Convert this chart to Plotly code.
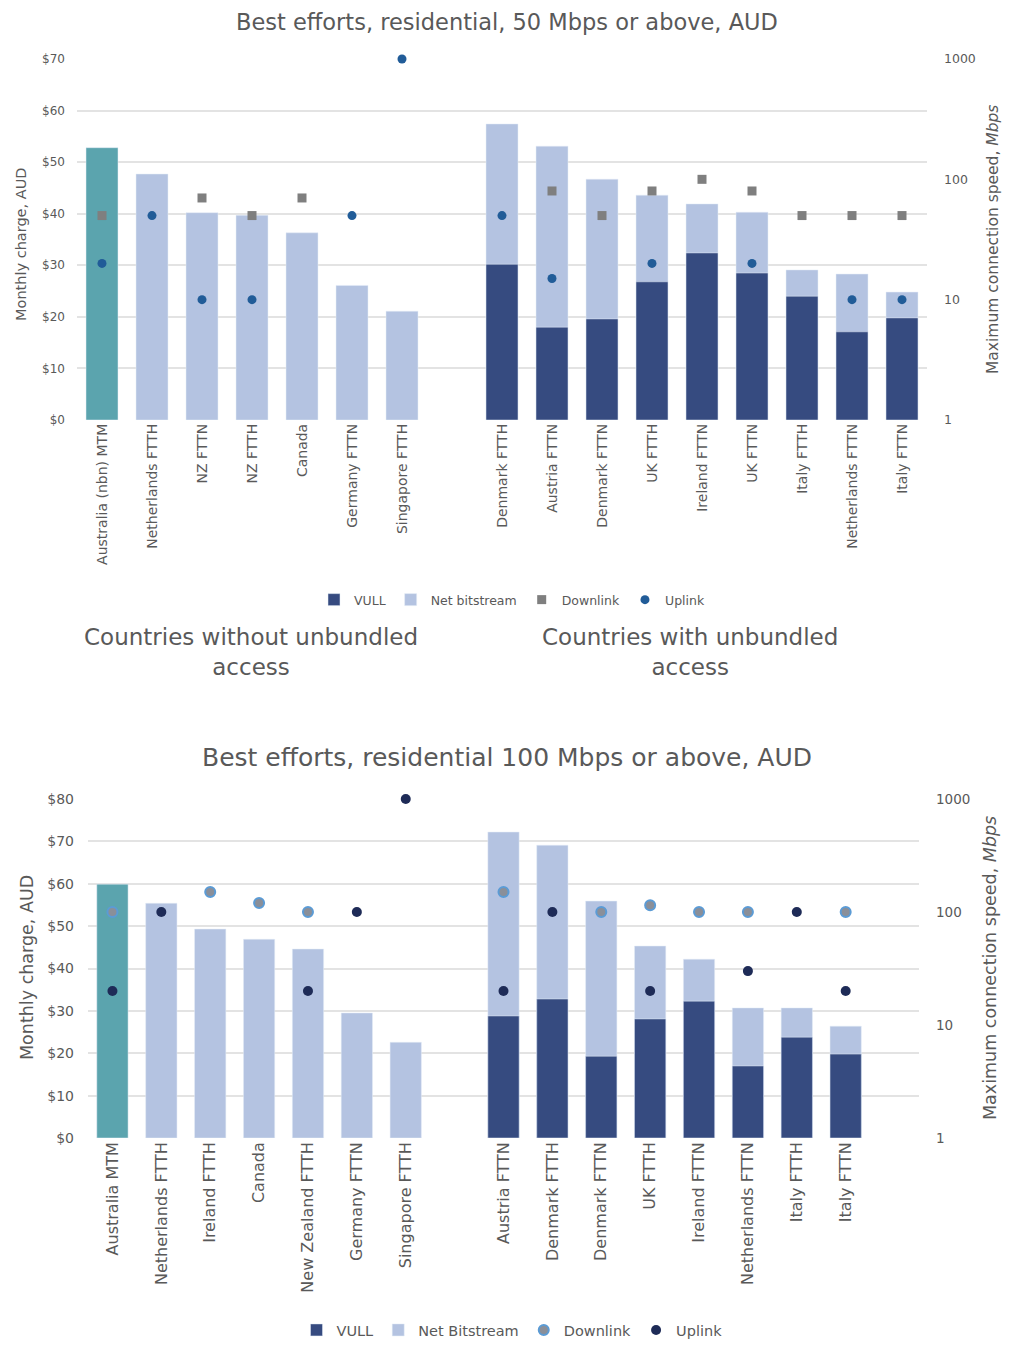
import plotly.graph_objects as go

# ---------------- data: top chart (50 Mbps or above) ----------------
top_cats = ["Australia (nbn) MTM", "Netherlands FTTH", "NZ FTTN", "NZ FTTH", "Canada",
            "Germany FTTN", "Singapore FTTH", " ", "Denmark FTTH", "Austria FTTN",
            "Denmark FTTN", "UK FTTH", "Ireland FTTN", "UK FTTN", "Italy FTTH",
            "Netherlands FTTN", "Italy FTTN"]
top_aus = [52.8] + [None] * 16
top_net = [None, 47.7, 40.2, 39.7, 36.3, 26.1, 21.1, None, 57.4, 53.1, 46.7, 43.6, 41.9,
           40.3, 29.1, 28.3, 24.8]
top_vull = [None] * 8 + [30.2, 18.0, 19.6, 26.8, 32.4, 28.5, 24.0, 17.1, 19.8]
top_down = [50, None, 70, 50, 70, None, None, None, None, 80, 50, 80, 100, 80, 50, 50, 50]
top_up = [20, 50, 10, 10, None, 50, 1000, None, 50, 15, None, 20, None, 20, None, 10, 10]

# ---------------- data: bottom chart (100 Mbps or above) ----------------
bot_cats = ["Australia MTM", "Netherlands FTTH", "Ireland FTTH", "Canada", "New Zealand FTTH",
            "Germany FTTN", "Singapore FTTH", " ", "Austria FTTN", "Denmark FTTH",
            "Denmark FTTN", "UK FTTH", "Ireland FTTN", "Netherlands FTTN", "Italy FTTH",
            "Italy FTTN", "  "]
bot_aus = [59.9] + [None] * 16
bot_net = [None, 55.4, 49.3, 46.9, 44.6, 29.5, 22.6, None, 72.2, 69.1, 55.9, 45.3, 42.2,
           30.7, 30.7, 26.4, None]
bot_vull = [None] * 8 + [28.8, 32.8, 19.3, 28.1, 32.3, 17.0, 23.8, 19.8, None]
bot_down = [100, None, 150, 120, 100, None, None, None, 150, None, 100, 115, 100, 100, None, 100, None]
bot_up = [20, 100, None, None, 20, 100, 1000, None, 20, 100, None, 20, None, 30, 100, 20, None]

top_money_ticks = [0, 10, 20, 30, 40, 50, 60, 70]
bot_money_ticks = [0, 10, 20, 30, 40, 50, 60, 70, 80]
speed_ticks = [1, 10, 100, 1000]

# ---------------- styles ----------------
FONT = "DejaVu Sans"
GREY_TXT = "#595959"
TEAL = "#5BA4AE"
LIGHT = "#B4C3E1"
NAVY = "#364B80"
GRID = "#E3E3E3"
W, H = 1034, 1345


def px_x(x):
    return x / W


def px_y(y):
    return 1 - y / H


fig = go.Figure()
BW = 0.64

# top chart traces
fig.add_trace(go.Bar(x=top_cats, y=top_aus, marker_color=TEAL, width=BW, showlegend=False,
                     xaxis="x", yaxis="y"))
fig.add_trace(go.Bar(x=top_cats, y=top_net, name="Net bitstream", marker_color=LIGHT, width=BW,
                     xaxis="x", yaxis="y", legend="legend", legendrank=2))
fig.add_trace(go.Bar(x=top_cats, y=top_vull, name="VULL", marker_color=NAVY, width=BW,
                     xaxis="x", yaxis="y", legend="legend", legendrank=1))
fig.add_trace(go.Scatter(x=top_cats, y=top_down, name="Downlink", mode="markers",
                         marker=dict(symbol="square", size=9, color="#7F7F7F"),
                         cliponaxis=False,
                         xaxis="x", yaxis="y2", legend="legend", legendrank=3))
fig.add_trace(go.Scatter(x=top_cats, y=top_up, name="Uplink", mode="markers",
                         marker=dict(symbol="circle", size=9, color="#215C98"),
                         cliponaxis=False,
                         xaxis="x", yaxis="y2", legend="legend", legendrank=4))

# bottom chart traces
fig.add_trace(go.Bar(x=bot_cats, y=bot_aus, marker_color=TEAL, width=BW, showlegend=False,
                     xaxis="x2", yaxis="y3"))
fig.add_trace(go.Bar(x=bot_cats, y=bot_net, name="Net Bitstream", marker_color=LIGHT, width=BW,
                     xaxis="x2", yaxis="y3", legend="legend2", legendrank=2))
fig.add_trace(go.Bar(x=bot_cats, y=bot_vull, name="VULL", marker_color=NAVY, width=BW,
                     xaxis="x2", yaxis="y3", legend="legend2", legendrank=1))
fig.add_trace(go.Scatter(x=bot_cats, y=bot_down, name="Downlink", mode="markers",
                         marker=dict(symbol="circle", size=10, color="#8A8F99",
                                     line=dict(color="#5B9BD5", width=2)),
                         cliponaxis=False,
                         xaxis="x2", yaxis="y4", legend="legend2", legendrank=3))
fig.add_trace(go.Scatter(x=bot_cats, y=bot_up, name="Uplink", mode="markers",
                         marker=dict(symbol="circle", size=10, color="#1E2B57"),
                         cliponaxis=False,
                         xaxis="x2", yaxis="y4", legend="legend2", legendrank=4))


def tf(size):
    return dict(family=FONT, size=size, color=GREY_TXT)


xcommon = dict(type="category", showgrid=False, showline=False, zeroline=False,
               tickangle=-90, ticks="", fixedrange=True, range=[-0.5, 16.5])

fig.update_layout(
    width=W, height=H,
    margin=dict(l=0, r=0, t=0, b=0, autoexpand=False),
    paper_bgcolor="white", plot_bgcolor="white",
    barmode="overlay",
    font=dict(family=FONT, color=GREY_TXT),
    xaxis=dict(domain=[px_x(77), px_x(927)], anchor="y", tickfont=tf(14), **xcommon),
    yaxis=dict(domain=[px_y(420), px_y(59)], range=[0, 70], tickvals=top_money_ticks,
               ticktext=["$" + str(v) for v in top_money_ticks],
               showgrid=True, gridcolor=GRID, gridwidth=1.5, zeroline=False,
               tickfont=tf(12), ticklabelstandoff=11, anchor="x"),
    yaxis2=dict(overlaying="y", side="right", type="log", range=[0, 3], tickvals=speed_ticks,
                ticktext=[str(v) for v in speed_ticks],
                showgrid=False, zeroline=False, tickfont=tf(12.5), ticklabelstandoff=16,
                anchor="x"),
    xaxis2=dict(domain=[px_x(88), px_x(919)], anchor="y3", tickfont=tf(16), **xcommon),
    yaxis3=dict(domain=[px_y(1138), px_y(799)], range=[0, 80], tickvals=bot_money_ticks,
                ticktext=["$" + str(v) for v in bot_money_ticks],
                showgrid=True, gridcolor=GRID, gridwidth=1.5, zeroline=False,
                tickfont=tf(14), ticklabelstandoff=13, anchor="x2"),
    yaxis4=dict(overlaying="y3", side="right", type="log", range=[0, 3], tickvals=speed_ticks,
                ticktext=[str(v) for v in speed_ticks],
                showgrid=False, zeroline=False, tickfont=tf(13.5), ticklabelstandoff=16,
                anchor="x2"),
    legend=dict(orientation="h", x=px_x(512), xanchor="center", y=px_y(600), yanchor="middle",
                font=tf(12.5), itemwidth=30, traceorder="normal"),
    legend2=dict(orientation="h", x=px_x(512), xanchor="center", y=px_y(1330), yanchor="middle",
                 font=tf(14.5), itemwidth=30, traceorder="normal"),
)


def note(text, x, y, size, angle=0):
    return dict(text=text, x=px_x(x), y=px_y(y), xref="paper", yref="paper",
                xanchor="center", yanchor="middle", showarrow=False, textangle=angle,
                font=tf(size))


ann = [
    note("Best efforts, residential, 50 Mbps or above, AUD", 507, 22, 22.5),
    note("Best efforts, residential 100 Mbps or above, AUD", 507, 757, 25),
    note("Countries without unbundled<br>access", 251, 652, 23),
    note("Countries with unbundled<br>access", 690, 652, 23),
    note("Monthly charge, AUD", 21, 245, 14.5, -90),
    note("Maximum connection speed, <i>Mbps</i>", 993, 240, 15.5, -90),
    note("Monthly charge, AUD", 27, 968, 17.5, -90),
    note("Maximum connection speed, <i>Mbps</i>", 990, 968, 17.5, -90),
]
fig.update_layout(annotations=ann)

fig.write_html("out.html")
